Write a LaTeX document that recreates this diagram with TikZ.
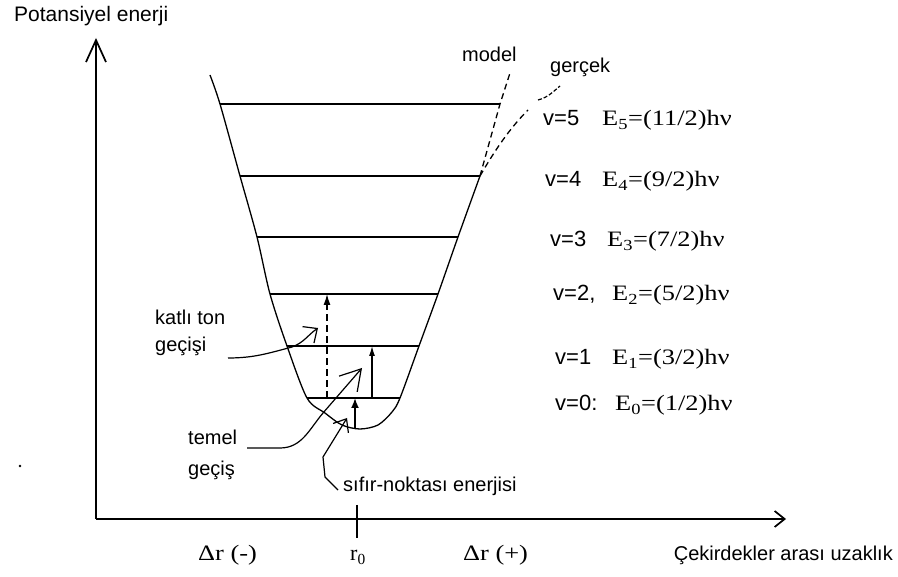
\documentclass[tikz,border=0pt]{standalone}
\usepackage{fontspec}
\usepackage{graphicx}
\setmainfont{Liberation Serif}
\setsansfont{Liberation Sans}
\usetikzlibrary{arrows.meta}
\begin{document}
\begin{tikzpicture}[x=1pt,y=-1pt,
  curve/.style={line width=1.3pt},
  levelline/.style={line width=1.6pt},
  axis/.style={line width=1.7pt},
  lbl/.style={font=\sffamily\fontsize{20}{27}\selectfont, inner sep=0pt, anchor=base west},
  elbl/.style={font=\fontsize{22}{26}\selectfont, inner sep=0pt, anchor=base west},
  serlbl/.style={font=\fontsize{22}{26}\selectfont, inner sep=0pt, anchor=base west},
  lead/.style={line width=1.2pt},
  dcurve/.style={line width=1.3pt, dash pattern=on 6pt off 4pt},
]
\useasboundingbox (0,0) rectangle (898,577);

% axes
\coordinate (O) at (96,519);
\coordinate (Ytop) at (96,38);
\coordinate (Xend) at (786,519);
\draw[axis,-{Straight Barb[length=22pt,width=20pt]}] (O) -- (Ytop);
\draw[axis,-{Straight Barb[length=10pt,width=16pt]}] (O) -- (Xend);
\coordinate (T1) at (357,505);
\coordinate (T2) at (357,538);
\draw[axis] (T1) -- (T2);

% energy levels
\foreach \n/\y/\xl/\xr in {5/104/220/500, 4/176/240/480, 3/237/257/458, 2/294/270/438, 1/346/287/419, 0/398/307/400}
  {\coordinate (L\n) at (\xl,\y); \coordinate (R\n) at (\xr,\y); \draw[levelline] (L\n) -- (R\n);}

% potential well
\coordinate (W0) at (210,75);
\draw[curve] plot[smooth, tension=0.5] coordinates {(W0) (L5) (L4) (L3) (L2) (L1) (L0) (325,413) (342,425) (360,429) (378,425) (392,412) (R0) (R1) (R2) (R3) (R4)};
\coordinate (M1) at (510,73);
\draw[dcurve] (R4) -- (R5) -- (M1);
\coordinate (G1) at (528,110);
\draw[dcurve] (R4) .. controls (495,150) and (510,128) .. (G1);

% transitions
\coordinate (D0) at (327,398);
\coordinate (D2) at (327,294);
\draw[line width=1.3pt, dash pattern=on 7pt off 4pt, -{Latex[length=11pt,width=7pt]}] (D0) -- (D2);
\coordinate (S0) at (372,398);
\coordinate (S1) at (372,346);
\draw[line width=1.3pt, -{Latex[length=10pt,width=6pt]}] (S0) -- (S1);
\coordinate (Z0) at (355,428);
\coordinate (Z1) at (355,398);
\draw[line width=1.8pt, -{Latex[length=10pt,width=8pt]}] (Z0) -- (Z1);

% labels
\node[lbl, font=\sffamily\fontsize{21}{27}\selectfont] (pe) at (14,22) {Potansiyel enerji};
\node[lbl] (model) at (462,62) {model};
\node[lbl] (gercek) at (550,73) {gerçek};
\node[lbl] (katli1) at (155,325) {katlı ton};
\node[lbl] (katli2) at (155,352) {geçişi};
\node[lbl] (temel1) at (188,445) {temel};
\node[lbl] (temel2) at (188,476) {geçiş};
\node[lbl] (sifir) at (343,492) {sıfır-noktası enerjisi};
\node[lbl, anchor=base east] (cek) at (893,561) {Çekirdekler arası uzaklık};
\node[serlbl] (drm) at (198,561) {\scalebox{1.2}[1]{Δr (-)}};
\node[serlbl, anchor=base] (r0) at (358,561) {r\textsubscript{0}};
\node[serlbl] (drp) at (463,561) {\scalebox{1.2}[1]{Δr (+)}};

% level labels
\node[elbl] (E5) at (543,126) {\makebox[59pt][l]{\sffamily v=5}\scalebox{1.2}[1]{E\textsubscript{5}=(11/2)hν}};
\node[elbl] (E4) at (545,187) {\makebox[57pt][l]{\sffamily v=4}\scalebox{1.2}[1]{E\textsubscript{4}=(9/2)hν}};
\node[elbl] (E3) at (550,247) {\makebox[57pt][l]{\sffamily v=3}\scalebox{1.2}[1]{E\textsubscript{3}=(7/2)hν}};
\node[elbl] (E2) at (553,301) {\makebox[59pt][l]{\sffamily v=2,}\scalebox{1.2}[1]{E\textsubscript{2}=(5/2)hν}};
\node[elbl] (E1) at (555,365) {\makebox[57pt][l]{\sffamily v=1}\scalebox{1.2}[1]{E\textsubscript{1}=(3/2)hν}};
\node[elbl] (E0) at (555,411) {\makebox[60pt][l]{\sffamily v=0:}\scalebox{1.2}[1]{E\textsubscript{0}=(1/2)hν}};

% leaders
\coordinate (gl1) at (538,100);
\coordinate (gl2) at (560,86);
\draw[lead, dash pattern=on 4pt off 2pt] (gl1) to[out=15,in=220] (gl2);
\coordinate (ka) at (228,358);
\coordinate (kb) at (292,347);
\coordinate (kc) at (318,328);
\draw[lead,-{Straight Barb[length=11pt,width=20pt]}] (ka) to[out=0,in=195] (kb) to[out=20,in=215] (kc);
\coordinate (ta) at (247,448);
\coordinate (tb) at (280,448);
\coordinate (tc) at (323,413);
\coordinate (td) at (362,368);
\draw[lead,-{Straight Barb[length=20pt,width=24pt]}] (ta) -- (tb) to[out=0,in=230] (tc) -- (td);
\coordinate (sa) at (338,490);
\coordinate (sb) at (325,477);
\coordinate (sc) at (323,457);
\coordinate (sd) at (347,418);
\draw[lead,-{Straight Barb[length=11pt,width=18pt]}] (sa) -- (sb) -- (sc) -- (sd);

% speck
\fill (20,466) circle (1.3pt);
\end{tikzpicture}
\end{document}
